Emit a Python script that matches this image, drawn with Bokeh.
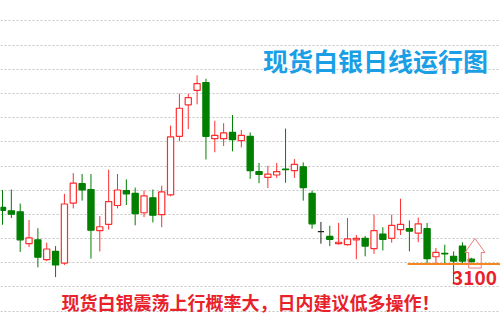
from bokeh.plotting import figure
from bokeh.models import Range1d, FixedTicker, Label, ColumnDataSource
from bokeh.embed import file_html
from bokeh.resources import INLINE

# Daily OHLC of spot silver, oldest first
opens = [3217, 3210, 3208, 3142, 3150, 3109, 3126, 3102, 3226, 3266,
         3254, 3169, 3182, 3221, 3252, 3246, 3206, 3237, 3202, 3243,
         3364, 3429, 3459, 3475, 3359, 3359, 3372, 3355, 3364, 3291,
         3279, 3284, 3296, 3293, 3301, 3246, 3167, 3157, 3142, 3140,
         3150, 3153, 3132, 3162, 3153, 3171, 3173, 3164, 3173, 3115,
         3122, 3116, 3137, 3110]
highs = [3253, 3254, 3225, 3191, 3174, 3144, 3137, 3245, 3288, 3286,
         3286, 3199, 3295, 3286, 3275, 3258, 3252, 3254, 3262, 3386,
         3452, 3452, 3490, 3483, 3396, 3391, 3408, 3377, 3372, 3309,
         3303, 3309, 3380, 3317, 3310, 3252, 3187, 3179, 3185, 3195,
         3160, 3158, 3202, 3176, 3202, 3235, 3190, 3196, 3185, 3133,
         3140, 3126, 3145, 3113]
lows = [3181, 3195, 3125, 3135, 3093, 3106, 3073, 3098, 3215, 3231,
        3111, 3126, 3171, 3215, 3222, 3180, 3197, 3186, 3176, 3240,
        3354, 3379, 3430, 3316, 3331, 3344, 3333, 3341, 3276, 3267,
        3257, 3278, 3268, 3278, 3231, 3173, 3142, 3137, 3140, 3138,
        3110, 3116, 3121, 3128, 3144, 3160, 3126, 3145, 3102, 3102,
        3102, 3058, 3099, 3103]
closes = [3211, 3203, 3150, 3154, 3114, 3131, 3098, 3224, 3267, 3253,
          3170, 3177, 3229, 3253, 3245, 3204, 3241, 3201, 3249, 3363,
          3422, 3444, 3473, 3364, 3366, 3371, 3357, 3366, 3293, 3285,
          3286, 3291, 3295, 3306, 3258, 3183, 3167, 3151, 3145, 3152,
          3153, 3137, 3169, 3151, 3180, 3182, 3168, 3183, 3111, 3124,
          3121, 3106, 3106, 3105]

support_level = 3100
support_label = "3100"
grid_levels = [3002.5 + 50 * k for k in range(13)]

title_text = "现货白银日线运行图"
note_text = "现货白银震荡上行概率大，日内建议低多操作！"

UP = "#FF2E2E"
DOWN = "#007F00"
FLAT = "#222222"

idx = list(range(len(opens)))
line_colors, fill_colors, tops, bottoms = [], [], [], []
for o, c in zip(opens, closes):
    if c > o:
        line_colors.append(UP)
        fill_colors.append("white")
    elif c < o:
        line_colors.append(DOWN)
        fill_colors.append(DOWN)
    else:
        line_colors.append(FLAT)
        fill_colors.append(FLAT)
    tops.append(max(o, c))
    bottoms.append(min(o, c))

src = ColumnDataSource(dict(x=idx, high=highs, low=lows, top=tops, bottom=bottoms,
                            line=line_colors, fill=fill_colors))

p = figure(width=500, height=325, output_backend="svg", toolbar_location=None,
           x_range=Range1d(-0.226, 56.3), y_range=Range1d(2972.9, 3644.7),
           min_border=0, background_fill_color="white", border_fill_color="white")
p.outline_line_color = None
p.xaxis.visible = False
p.yaxis.visible = False
p.xgrid.visible = False
p.yaxis.ticker = FixedTicker(ticks=grid_levels)
p.ygrid.ticker = FixedTicker(ticks=grid_levels)
p.ygrid.grid_line_color = "#C4C4C4"
p.ygrid.grid_line_dash = "2 2"
p.ygrid.grid_line_width = 1

# wicks, then bodies on top
p.segment(x0="x", y0="low", x1="x", y1="high", line_color="line", line_width=1, source=src)
p.vbar(x="x", width=0.7, top="top", bottom="bottom", fill_color="fill",
       line_color="line", line_width=1.2, source=src)

# support line
support_start = 45.8
p.segment(x0=[support_start], y0=[support_level], x1=[56.3], y1=[support_level],
          line_color="#F7861F", line_width=2.2)

# hollow up-arrow above the support line
ax, head_half, shaft_half = 53.41, 1.13, 0.71
tip, base, tail = 3152.7, 3123.8, 3091.7
p.patch(x=[ax, ax + head_half, ax + shaft_half, ax + shaft_half, ax - shaft_half, ax - shaft_half, ax - head_half],
        y=[tip, base, base, tail, tail, base, base],
        fill_color=None, line_color="#F07A7A", line_width=1)

cjk = "Noto Sans CJK SC"
p.add_layout(Label(x=375, y=266, x_units="screen", y_units="screen", text=title_text,
                   text_font=cjk, text_font_size="25px", text_font_style="bold",
                   text_color="#1A9FE6", text_align="center", text_baseline="middle"))
p.add_layout(Label(x=250, y=24, x_units="screen", y_units="screen", text=note_text,
                   text_font=cjk, text_font_size="18px", text_font_style="bold",
                   text_color="#E8212B", text_align="center", text_baseline="middle"))
p.add_layout(Label(x=474, y=48, x_units="screen", y_units="screen", text=support_label,
                   text_font=cjk, text_font_size="19px", text_font_style="bold",
                   text_color="#E8212B", text_align="center", text_baseline="middle"))

open("out.html", "w").write(file_html(p, INLINE))
